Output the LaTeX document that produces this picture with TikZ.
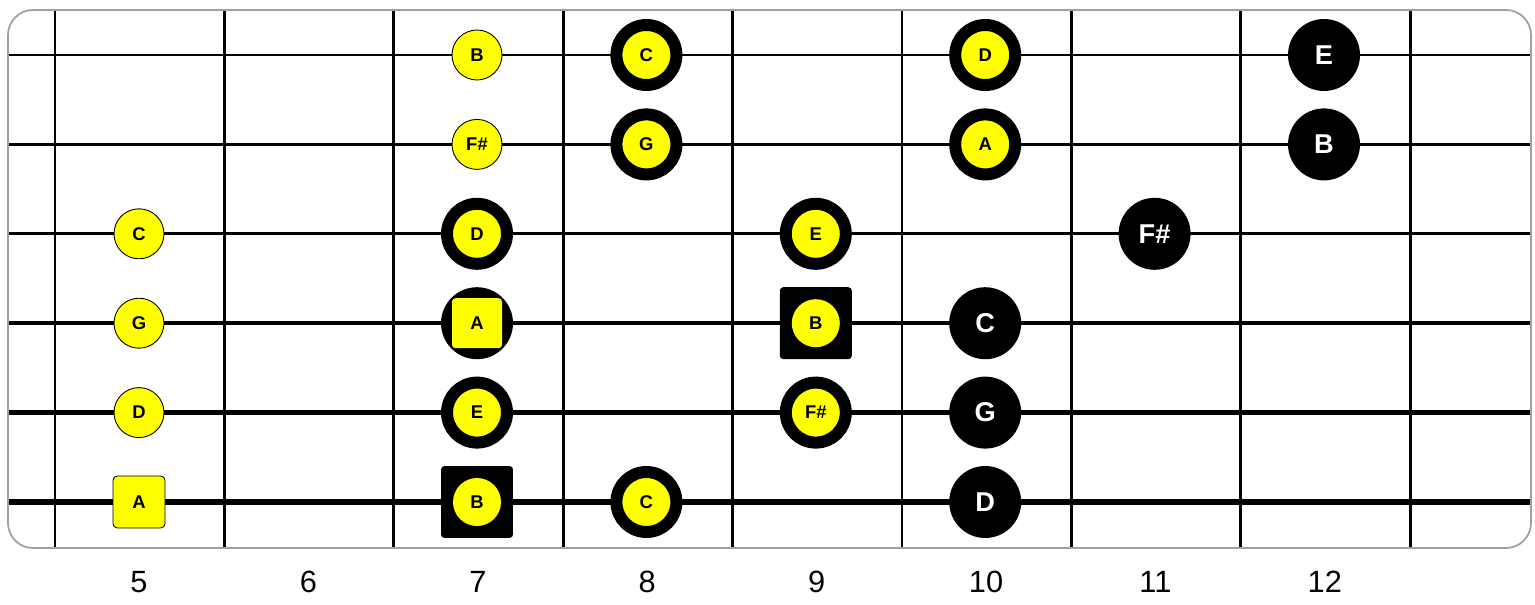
\documentclass[tikz,border=0pt]{standalone}
\usepackage{fontspec}
\setmainfont{Liberation Sans}
\usetikzlibrary{positioning}
\definecolor{noteyellow}{RGB}{255,255,0}
\definecolor{boardgray}{RGB}{160,160,160}

\begin{document}
\begin{tikzpicture}[
		x=0.02cm, y=-0.02cm,
		scalenote/.style={circle, draw=black, line width=0.5pt, fill=noteyellow, inner sep=0pt, minimum size=1cm, font=\fontsize{10.5}{11}\selectfont\bfseries},
		rootnote/.style={rectangle, rounded corners=2.5pt, draw=black, line width=0.5pt, fill=noteyellow, inner sep=0pt, minimum size=1.04cm, font=\fontsize{10.5}{11}\selectfont\bfseries},
		ringnote/.style={circle, draw=black, line width=0.24cm, fill=noteyellow, inner sep=0pt, minimum size=1.2cm, font=\fontsize{10.5}{11}\selectfont\bfseries},
		chordnote/.style={circle, fill=black, text=white, inner sep=0pt, minimum size=1.44cm, font=\fontsize{15.5}{16}\selectfont\bfseries},
		chordbox/.style={rectangle, rounded corners=2pt, fill=black, inner sep=0pt, minimum size=1.44cm},
		innerdot/.style={circle, fill=noteyellow, inner sep=0pt, minimum size=0.96cm, font=\fontsize{10.5}{11}\selectfont\bfseries},
		innersquare/.style={rectangle, rounded corners=2pt, fill=noteyellow, inner sep=0pt, minimum size=1.0cm, font=\fontsize{10.5}{11}\selectfont\bfseries},
		fretnum/.style={font=\fontsize{17.5}{18}\selectfont}
		]
		\useasboundingbox (0,0) rectangle (1535,605);
		% board
		\foreach \k in {0,...,8}
			\draw[line width=1.6pt] (55+169.4*\k, 10) -- (55+169.4*\k, 548);
		\foreach \y/\w in {55/1.2pt, 144.4/1.5pt, 233.8/1.9pt, 323.2/2.3pt, 412.6/2.8pt, 502/3.4pt}
			\draw[line width=\w] (8, \y) -- (1531, \y);
		\draw[boardgray, line width=1pt, rounded corners=0.5cm] (8, 10) rectangle (1531, 548);
		\foreach \n in {5,...,12}
			\node at (139+169.4*\n-847, 582) [name=fret \n, fretnum] {\n};

		% string 1
		\node at (477, 55) [name=n1-7, scalenote] {B};
		\node at (646.4, 55) [name=n1-8, ringnote] {C};
		\node at (985.2, 55) [name=n1-10, ringnote] {D};
		\node at (1324, 55) [name=n1-12, chordnote] {E};
		% string 2
		\node at (477, 144.4) [name=n2-7, scalenote] {F\#};
		\node at (646.4, 144.4) [name=n2-8, ringnote] {G};
		\node at (985.2, 144.4) [name=n2-10, ringnote] {A};
		\node at (1324, 144.4) [name=n2-12, chordnote] {B};
		% string 3
		\node at (139, 233.8) [name=n3-5, scalenote] {C};
		\node at (477, 233.8) [name=n3-7, ringnote] {D};
		\node at (815.8, 233.8) [name=n3-9, ringnote] {E};
		\node at (1154.6, 233.8) [name=n3-11, chordnote] {F\#};
		% string 4
		\node at (139, 323.2) [name=n4-5, scalenote] {G};
		\node at (477, 323.2) [name=n4-7 ring, chordnote] {};
		\node at (477, 323.2) [name=n4-7, innersquare] {A};
		\node at (815.8, 323.2) [name=n4-9 box, chordbox] {};
		\node at (815.8, 323.2) [name=n4-9, innerdot] {B};
		\node at (985.2, 323.2) [name=n4-10, chordnote] {C};
		% string 5
		\node at (139, 412.6) [name=n5-5, scalenote] {D};
		\node at (477, 412.6) [name=n5-7, ringnote] {E};
		\node at (815.8, 412.6) [name=n5-9, ringnote] {F\#};
		\node at (985.2, 412.6) [name=n5-10, chordnote] {G};
		% string 6
		\node at (139, 502) [name=n6-5, rootnote] {A};
		\node at (477, 502) [name=n6-7 box, chordbox] {};
		\node at (477, 502) [name=n6-7, innerdot] {B};
		\node at (646.4, 502) [name=n6-8, ringnote] {C};
		\node at (985.2, 502) [name=n6-10, chordnote] {D};
	\end{tikzpicture}
\end{document}
